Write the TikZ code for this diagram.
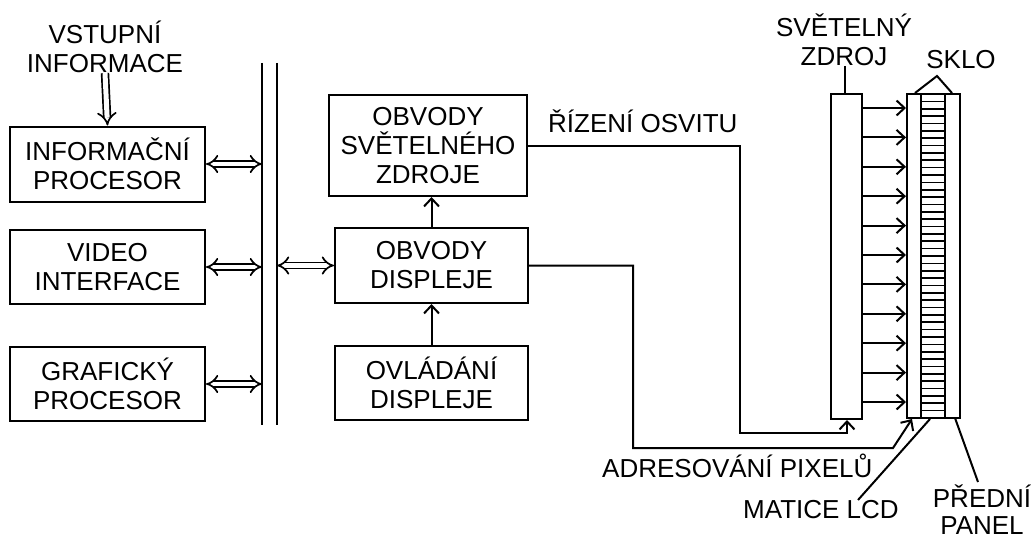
\documentclass[tikz,border=0pt]{standalone}
\usepackage{fontspec}
\setmainfont{Liberation Sans}
\usetikzlibrary{arrows.meta}
\begin{document}
\begin{tikzpicture}[x=1pt,y=-1pt,
  txt/.style={font=\fontsize{26}{29}\selectfont},
  blok/.style={draw, line width=2pt, align=center, inner sep=0pt, txt},
  ln/.style={line width=2pt},
  arr/.style={ln, -{Straight Barb[length=8pt,width=15pt,line width=2pt]}},
  dbl/.style={double, double distance=4.5pt, line width=1.7pt, {Implies[scale=1.7]}-{Implies[scale=1.7]}},
  dbldown/.style={double, double distance=5pt, line width=1.7pt, -{Implies[scale=1.7]}},
  lbl/.style={inner sep=0pt, align=center, txt}]
\useasboundingbox (0,0) rectangle (1033,543);

% left blocks
\node[blok, minimum width=195pt, minimum height=75pt] (ip) at (107.5,164) {INFORMAČNÍ\\PROCESOR};
\node[blok, minimum width=195pt, minimum height=74pt] (vi) at (107.5,267) {VIDEO\\INTERFACE};
\node[blok, minimum width=195pt, minimum height=74pt] (gp) at (107.5,384) {GRAFICKÝ\\PROCESOR};

\node[lbl] (vst) at (105,47) {VSTUPNÍ\\INFORMACE};
\draw[dbldown] (vst.south) -- (ip.north);

% bus
\coordinate (b1t) at (262,63);
\coordinate (b1b) at (262,425);
\coordinate (b2t) at (277,63);
\coordinate (b2b) at (277,425);
\draw[ln] (b1t) -- (b1b);
\draw[ln] (b2t) -- (b2b);

\draw[dbl] (ip.east) -- (ip.east -| b1t);
\draw[dbl] (vi.east) -- (vi.east -| b1t);
\draw[dbl] (gp.east) -- (gp.east -| b1t);

% center blocks
\node[blok, minimum width=198pt, minimum height=101pt] (osz) at (428,145.5) {OBVODY\\SVĚTELNÉHO\\ZDROJE};
\node[blok, minimum width=193pt, minimum height=75pt] (od) at (431.5,265.5) {OBVODY\\DISPLEJE};
\node[blok, minimum width=193pt, minimum height=74pt] (ovd) at (431.5,383) {OVLÁDÁNÍ\\DISPLEJE};

\draw[dbl] (od.west -| b2t) -- (od.west);
\draw[arr] (od.north) -- (od.north |- osz.south);
\draw[arr] (ovd.north) -- (od.south);

% light source and glass
\node[draw, ln, minimum width=31pt, minimum height=325pt, inner sep=0pt] (ls) at (846.5,256.5) {};
\node[draw, ln, minimum width=53pt, minimum height=324pt, inner sep=0pt] (gl) at (933.5,256) {};
\draw[ln] (921,94) -- (921,418);
\draw[ln] (945,94) -- (945,418);
\foreach \i in {1,...,43} {
  \draw[line width=1.6pt] (921,{94+\i*324/44}) -- (945,{94+\i*324/44});
}
\foreach \i in {0,...,10} {
  \coordinate (r\i) at (0,{108+29.4*\i});
  \draw[arr] (ls.east |- r\i) -- (gl.west |- r\i);
}

% connectors
\node[lbl, anchor=base west] (riz) at (548,132) {ŘÍZENÍ OSVITU};
\coordinate (c1) at (740,433);
\draw[arr] (osz.east) -| (c1) -| ([xshift=0.5pt]ls.south);

\node[lbl, anchor=base west] (adr) at (602,477) {ADRESOVÁNÍ PIXELŮ};
\coordinate (c2) at (633,448);
\coordinate (c3) at (893,448);
\coordinate (c4) at (912,419);
\draw[arr] (od.east) -| (c2) -- (c3) -- (c4);

% labels on the right
\node[lbl] (svz) at (844,40) {SVĚTELNÝ\\ZDROJ};
\draw[ln] (845,66) -- (ls.north -| 845,0);

\node[lbl, anchor=base] (sklo) at (961,68) {SKLO};
\coordinate (s1) at (915,93);
\coordinate (s2) at (937,76);
\coordinate (s3) at (952,93);
\draw[ln] (s1) -- (s2) -- (s3);

\node[lbl, anchor=base west] (mat) at (743,518) {MATICE LCD};
\coordinate (m1) at (858,500);
\coordinate (m2) at (930,419);
\draw[ln] (m1) -- (m2);

\node[lbl, font=\fontsize{26}{27}\selectfont] (pp) at (982,510) {PŘEDNÍ\\PANEL};
\coordinate (p1) at (955,418);
\coordinate (p2) at (978,482);
\draw[ln] (p1) -- (p2);
\end{tikzpicture}
\end{document}
